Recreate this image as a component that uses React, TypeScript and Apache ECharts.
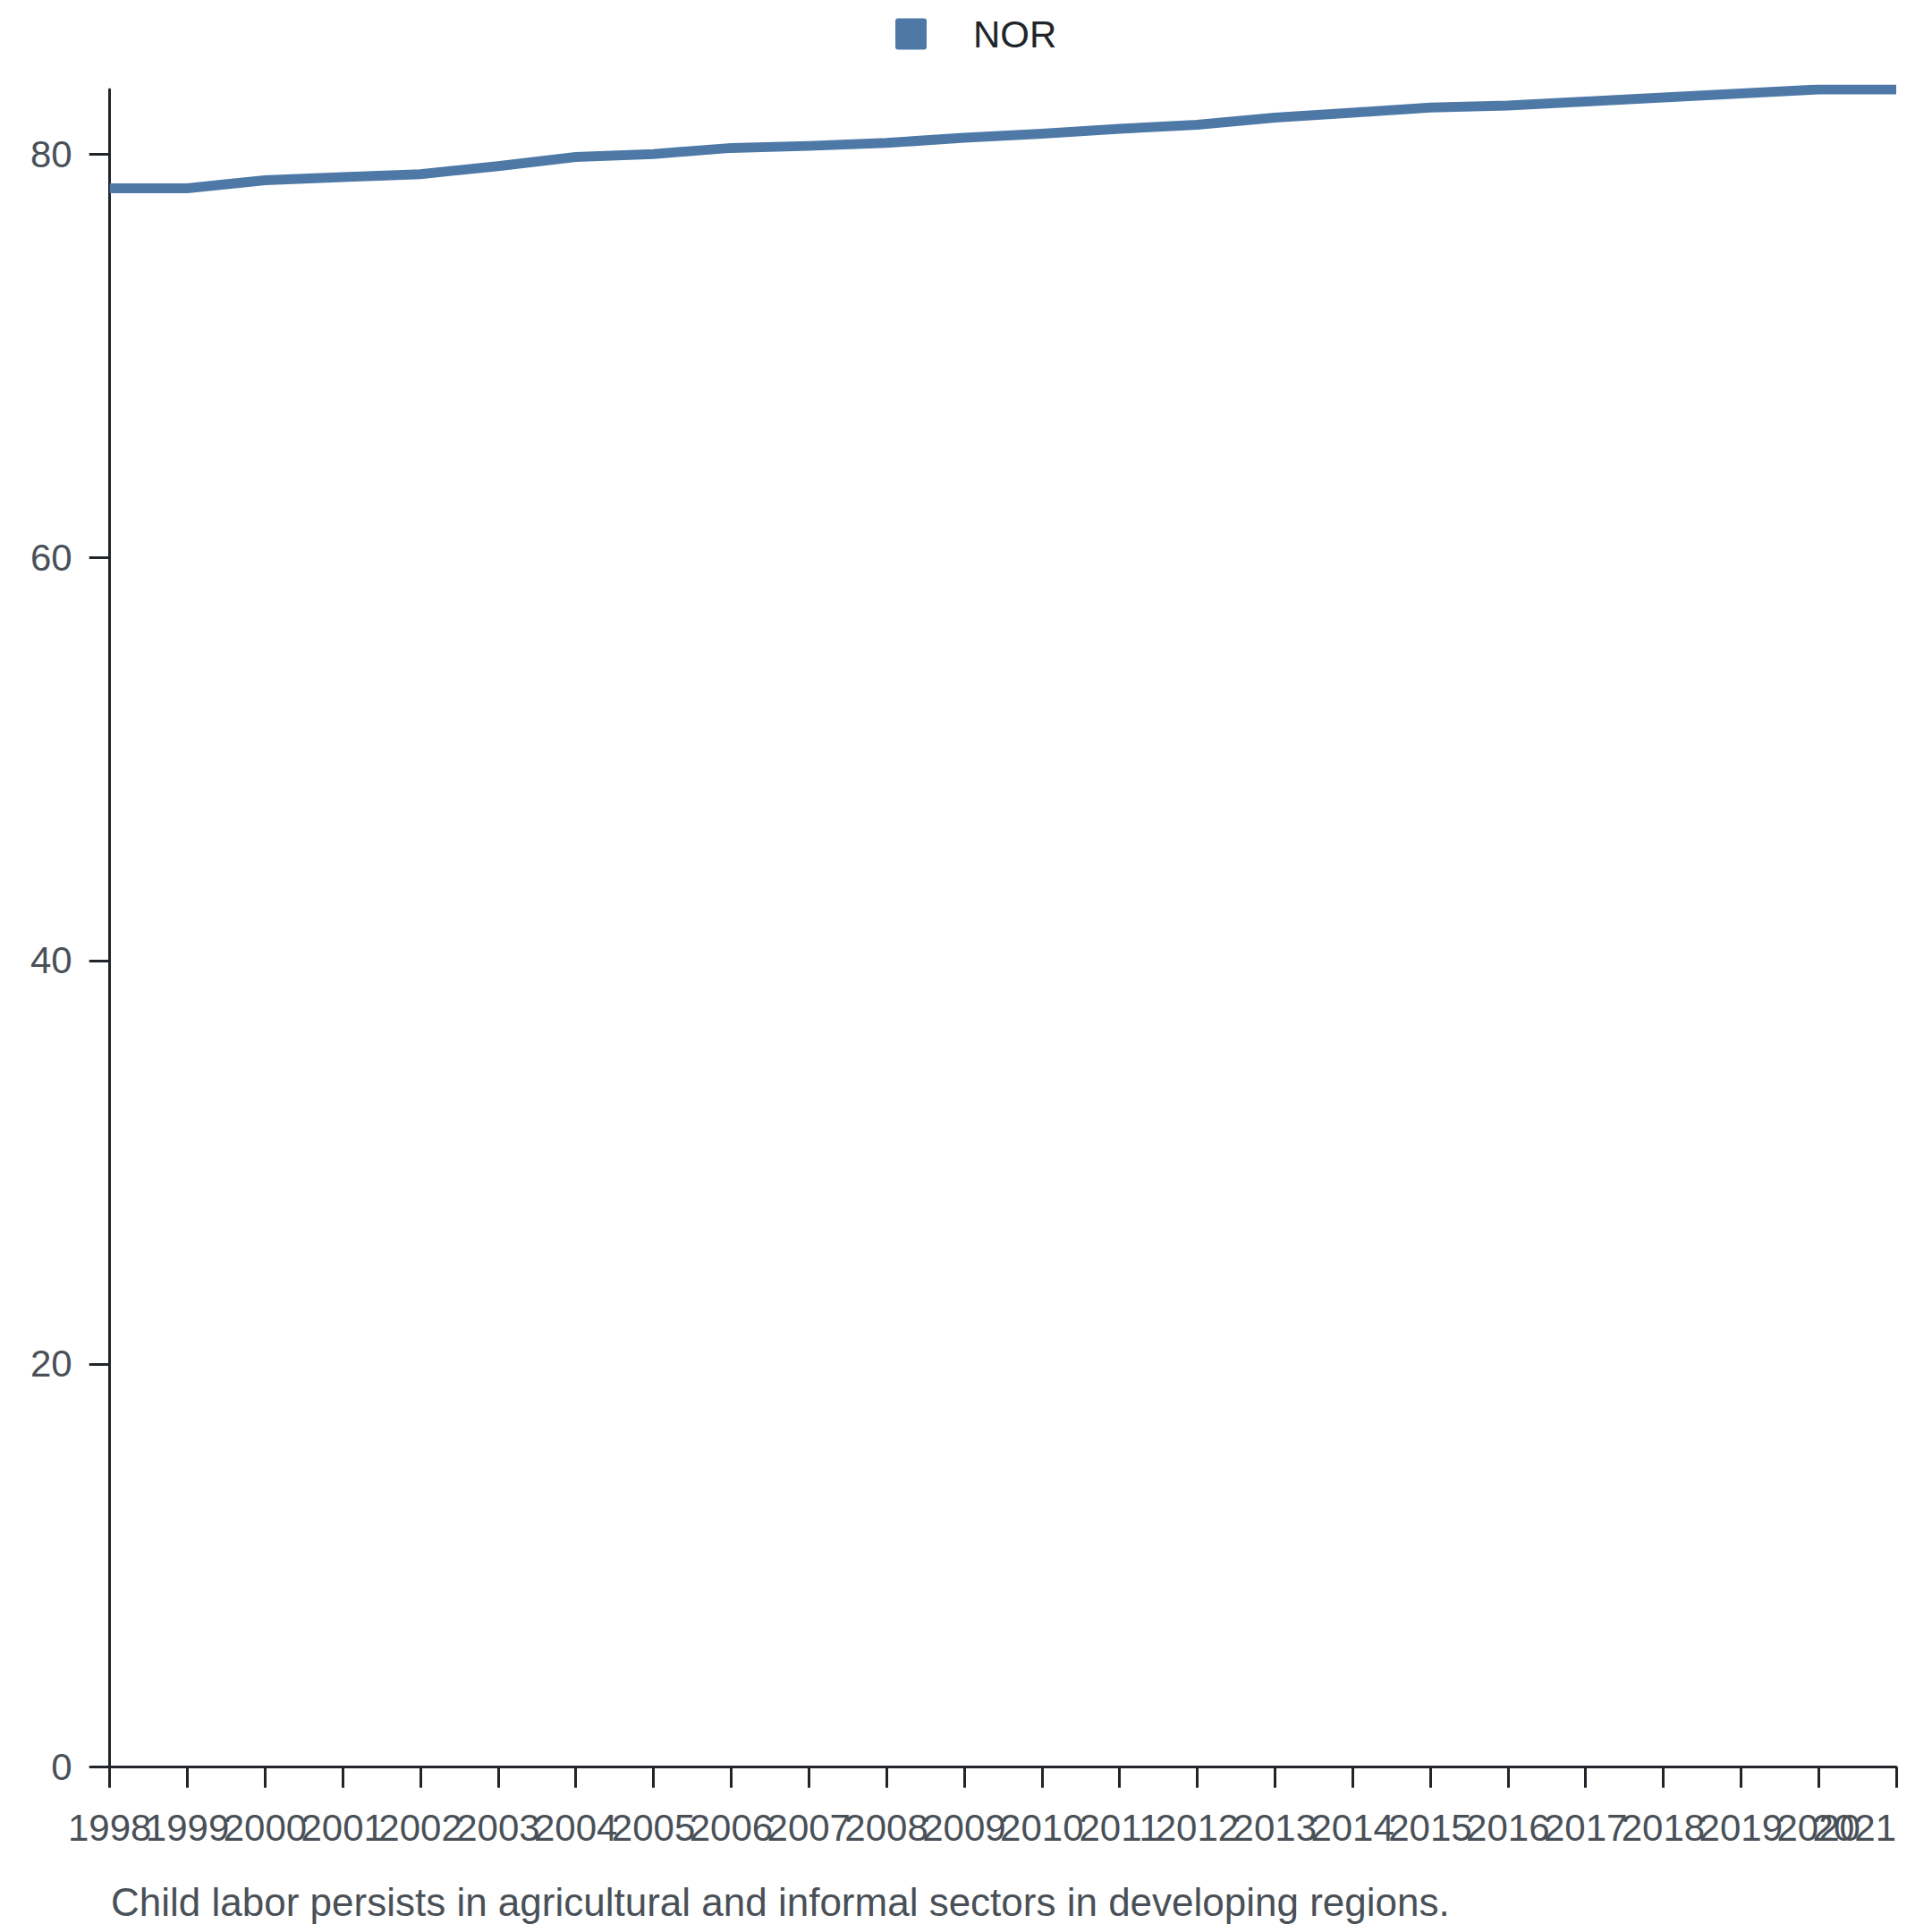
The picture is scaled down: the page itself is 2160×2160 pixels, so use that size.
import React, { useEffect, useRef } from "react";
import * as echarts from "echarts";

const years = [
  "1998", "1999", "2000", "2001", "2002", "2003", "2004", "2005", "2006", "2007", "2008", "2009",
  "2010", "2011", "2012", "2013", "2014", "2015", "2016", "2017", "2018", "2019", "2020", "2021",
];
const norValues = [
  78.3, 78.3, 78.7, 78.85, 79.0, 79.4, 79.85, 80.0, 80.3, 80.4, 80.55, 80.8,
  81.0, 81.25, 81.45, 81.8, 82.05, 82.3, 82.4, 82.6, 82.8, 83.0, 83.2, 83.2,
];
const yTickValues = [0, 20, 40, 60, 80];
const seriesName = "NOR";
const caption = "Child labor persists in agricultural and informal sectors in developing regions.";

const FONT = "'Liberation Sans', Arial, Helvetica, sans-serif";
const AXIS_COLOR = "#212529";
const LABEL_COLOR = "#495057";
const LINE_COLOR = "#4e79a7";

export default function App() {
  const ref = useRef<HTMLDivElement>(null);
  useEffect(() => {
    if (!ref.current) return;
    const chart = echarts.init(ref.current, null, { renderer: "svg" });
    const yMax = Math.max(...norValues);
    chart.setOption({
      animation: false,
      backgroundColor: "#ffffff",
      textStyle: { fontFamily: FONT },
      legend: {
        show: true,
        left: 1001,
        top: 17,
        padding: 0,
        itemWidth: 35,
        itemHeight: 35,
        icon: "path://M3,0h29a3,3 0 0 1 3,3v29a3,3 0 0 1 -3,3h-29a3,3 0 0 1 -3,-3v-29a3,3 0 0 1 3,-3z",
        data: [seriesName],
        textStyle: {
          fontFamily: FONT,
          fontSize: 42,
          color: AXIS_COLOR,
          padding: [0, 0, 0, 47],
        },
      },
      grid: {
        left: 122.7,
        right: 40,
        top: 100,
        bottom: 184.3,
        containLabel: false,
      },
      xAxis: {
        type: "category",
        data: years,
        boundaryGap: false,
        axisLine: { show: true, lineStyle: { color: AXIS_COLOR, width: 3 } },
        axisTick: { show: true, length: 23, interval: 0, lineStyle: { color: AXIS_COLOR, width: 3 } },
        axisLabel: {
          interval: 0,
          hideOverlap: false,
          margin: 47,
          fontSize: 42,
          color: LABEL_COLOR,
          fontFamily: FONT,
          alignMaxLabel: "right",
        },
        splitLine: { show: false },
      },
      yAxis: {
        type: "value",
        min: 0,
        max: yMax,
        axisLine: { show: true, lineStyle: { color: AXIS_COLOR, width: 3 } },
        axisTick: {
          show: true,
          length: 23,
          customValues: yTickValues,
          lineStyle: { color: AXIS_COLOR, width: 3 },
        },
        axisLabel: {
          customValues: yTickValues,
          margin: 42,
          fontSize: 42,
          color: LABEL_COLOR,
          fontFamily: FONT,
        },
        splitLine: { show: false },
      },
      series: [
        {
          name: seriesName,
          type: "line",
          data: norValues,
          showSymbol: false,
          symbol: "none",
          lineStyle: { color: LINE_COLOR, width: 11, cap: "butt", join: "miter" },
          itemStyle: { color: LINE_COLOR },
        },
      ],
      graphic: [
        {
          type: "text",
          left: 124,
          top: 2104,
          style: {
            text: caption,
            fontSize: 44,
            fontFamily: FONT,
            fill: LABEL_COLOR,
          },
        },
      ],
    });
    return () => chart.dispose();
  }, []);
  return (
    <div
      ref={ref}
      style={{ position: "fixed", left: 0, top: 0, width: 2160, height: 2160, background: "#fff" }}
    />
  );
}
